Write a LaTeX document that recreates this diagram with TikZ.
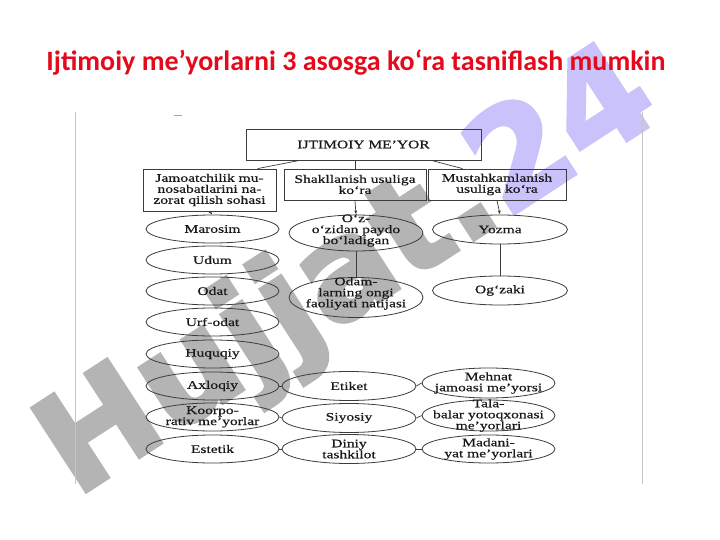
\documentclass[tikz,border=0pt]{standalone}
\usepackage{fontspec}
\setmainfont{Liberation Serif}
\newfontfamily\scanfont[FakeStretch=1.35,FakeBold=0.5]{Liberation Serif}
\newfontfamily\titlefont{Carlito}
\newfontfamily\wmfont[FakeBold=3]{DejaVu Sans Bold}
\usetikzlibrary{shapes.geometric,arrows.meta,calc}
\definecolor{titlered}{RGB}{228,10,28}
\definecolor{scanline}{RGB}{60,60,60}
\definecolor{scantext}{RGB}{25,25,25}
\definecolor{wmgrey}{RGB}{180,180,180}
\definecolor{wmviolet}{RGB}{202,194,250}
\begin{document}
\begin{tikzpicture}[x=1pt,y=-1pt,
  every node/.style={font=\scanfont\fontsize{11.5}{11}\selectfont, text=scantext},
  box/.style={draw=scanline, line width=0.8pt, rectangle, inner sep=0pt, align=center},
  ell/.style={draw=scanline, line width=0.8pt, ellipse, inner sep=0pt, minimum width=133pt},
  conn/.style={draw=scanline, line width=0.7pt},
  arr/.style={conn, -{Latex[length=4pt,width=3pt]}},
  frameline/.style={draw=gray!45, line width=0.6pt}]
\fill[white] (0,0) rectangle (720,540);
\useasboundingbox (0,0) rectangle (720,540);

% watermark (behind the diagram)
\node[rotate=33, font=\wmfont\fontsize{136}{136}\selectfont, inner sep=0pt] (wm) at (350,276)
  {\textcolor{wmgrey}{Hujjat.}\textcolor{wmviolet}{24}};

% title
\node[font=\titlefont\bfseries\fontsize{28}{28}\selectfont, text=titlered, anchor=base] (title) at (356,71)
  {Ijtimoiy me’yorlarni 3 asosga ko‘ra tasniflash mumkin};

% scan frame
\draw[frameline] (75,112) -- (75,484);
\draw[frameline] (642,112) -- (642,484);
\draw[draw=gray!70, line width=0.8pt] (174,115) -- (182,115);

% boxes
\node[box, minimum width=235pt, minimum height=31pt] (main) at (363.5,144.5) {IJTIMOIY ME’YOR};
\node[box, minimum width=133pt, minimum height=42pt] (b1) at (209.5,190) {Jamoatchilik mu-\\nosabatlarini na-\\zorat qilish sohasi};
\node[box, minimum width=142pt, minimum height=31pt] (b2) at (355,184.5) {Shakllanish usuliga\\ko‘ra};
\node[box, minimum width=138pt, minimum height=31pt] (b3) at (497,184.5) {Mustahkamlanish\\usuliga ko‘ra};

% left column
\node[ell, minimum height=28pt, label={[align=center]center:Marosim}] (l1) at (212.5,229) {};
\node[ell, minimum height=28pt, label={[align=center]center:Udum}] (l2) at (212.5,260) {};
\node[ell, minimum height=28pt, label={[align=center]center:Odat}] (l3) at (212.5,291) {};
\node[ell, minimum height=28pt, label={[align=center]center:Urf-odat}] (l4) at (212.5,322) {};
\node[ell, minimum height=28pt, label={[align=center]center:Huquqiy}] (l5) at (212.5,354) {};
\node[ell, minimum height=28pt, label={[align=center]center:Axloqiy}] (l6) at (212.5,386) {};
\node[ell, minimum height=28pt, label={[align=center]center:Koorpo-\\rativ me’yorlar}] (l7) at (212.5,417) {};
\node[ell, minimum height=28pt, label={[align=center]center:Estetik}] (l8) at (212.5,449) {};

% middle column
\node[ell, minimum width=134pt, minimum height=36pt, label={[align=center, yshift=2.5pt]center:O‘z-\\o‘zidan paydo\\bo‘ladigan}] (m1) at (356,233) {};
\node[ell, minimum width=134pt, minimum height=40pt, label={[align=center, yshift=4pt]center:Odam-\\larning ongi\\faoliyati natijasi}] (m2) at (356,297.5) {};
\node[ell, minimum width=134pt, minimum height=29pt, label={[align=center]center:Etiket}] (m3) at (349,386) {};
\node[ell, minimum width=134pt, minimum height=29pt, label={[align=center]center:Siyosiy}] (m4) at (349,418) {};
\node[ell, minimum width=134pt, minimum height=29pt, label={[align=center]center:Diniy\\tashkilot}] (m5) at (349,449) {};

% right column
\node[ell, minimum width=135pt, minimum height=29pt, label={[align=center]center:Yozma}] (r1) at (500,229.5) {};
\node[ell, minimum width=135pt, minimum height=29pt, label={[align=center]center:Og‘zaki}] (r2) at (500,290.5) {};
\node[ell, minimum height=30pt, label={[align=center]center:Mehnat\\jamoasi me’yorsi}] (r3) at (488.5,383) {};
\node[ell, minimum height=31pt, label={[align=center]center:Tala-\\balar yotoqxonasi\\me’yorlari}] (r4) at (488.5,415.5) {};
\node[ell, minimum height=28pt, label={[align=center]center:Madani-\\yat me’yorlari}] (r5) at (488.5,449) {};

% connectors
\draw[conn] ([xshift=54pt]main.south west) -- ([xshift=115pt]b1.north west);
\draw[conn] (b2.north |- main.south) -- (b2.north);
\draw[conn] ([xshift=-50pt]main.south east) -- ([xshift=35pt]b3.north west);
\draw[arr] (b1.south) -- (l1.north);
\draw[arr] (b2.south) -- (m1.north);
\draw[arr] (b3.south) -- (r1.north);
\draw[conn] (m1.south) -- (m2.north);
\draw[conn] (r1.south) -- (r2.north);
\draw[conn] (l6.east) -- (m3.west);
\draw[conn] (l7.east) -- (m4.west);
\draw[conn] (l8.east) -- (m5.west);
\draw[conn] (m3.east) -- (r3.west);
\draw[conn] (m4.east) -- (r4.west);
\draw[conn] (m5.east) -- (r5.west);
\end{tikzpicture}
\end{document}
